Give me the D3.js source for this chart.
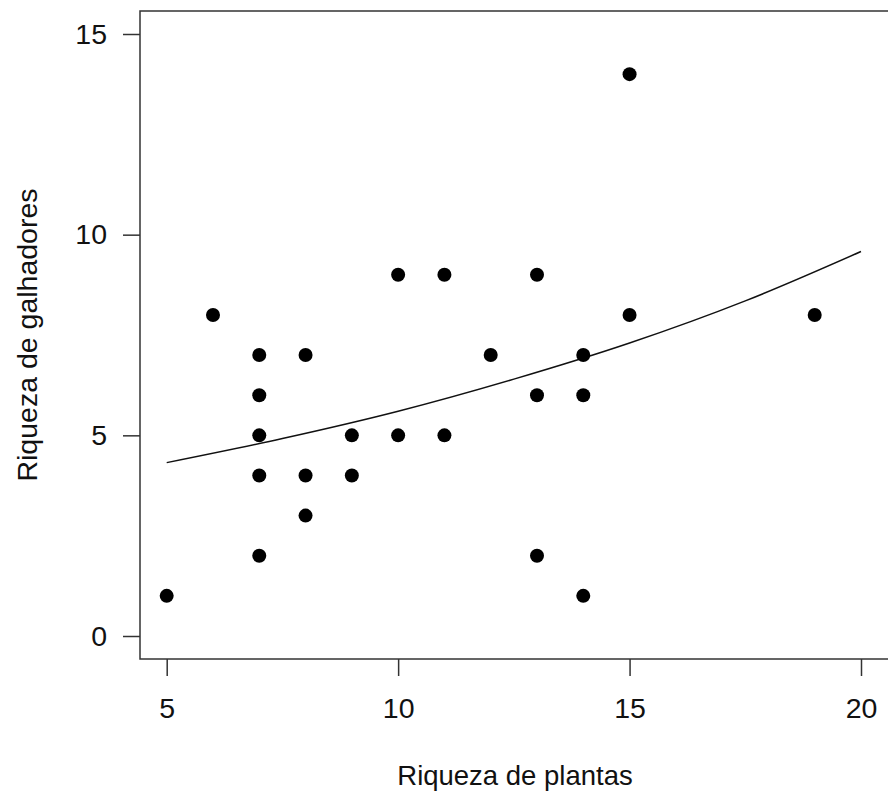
<!DOCTYPE html>
<html>
<head>
<meta charset="utf-8">
<script src="https://cdn.jsdelivr.net/npm/d3@7"></script>
<style>
  body { margin: 0; background: #fff; }
  text { font-family: "Liberation Sans", Arial, sans-serif; fill: #111; }
</style>
</head>
<body>
<div id="my_dataviz"></div>
<script>
// data
const plantas =    [5, 6, 7, 7, 7, 7, 7, 8, 8, 8, 9, 9, 10, 10, 11, 11, 12, 13, 13, 13, 14, 14, 14, 15, 15, 19];
const galhadores = [1, 8, 7, 6, 5, 4, 2, 7, 4, 3, 5, 4,  9,  5,  9,  5,  7,  9,  6,  2,  7,  6,  1, 14,  8,  8];
// fitted curve, read at a few x values
const curveX = [5, 7.5, 10, 12.5, 15, 17.5, 20];
const curveY = [4.32, 4.92, 5.6, 6.4, 7.3, 8.35, 9.58];
const xTicks = [5, 10, 15, 20];
const yTicks = [0, 5, 10, 15];

const outerWidth = 888;
const outerHeight = 794;
const box = {left: 140, top: 11, right: 890, bottom: 659};
const radius = 7;
const tickFont = "28.5px";

const svg = d3.select("#my_dataviz").append("svg")
  .attr("width", outerWidth)
  .attr("height", outerHeight);

const xScale = d3.scaleLinear()
  .domain([5, 20])
  .range([166.7, 861]);
const yScale = d3.scaleLinear()
  .domain([0, 15])
  .range([636, 34]);

// frame
svg.append("rect")
  .attr("x", box.left)
  .attr("y", box.top)
  .attr("width", box.right - box.left)
  .attr("height", box.bottom - box.top)
  .attr("fill", "none")
  .attr("stroke", "#333")
  .attr("stroke-width", 1.5);

// axes
const xAxis = d3.axisBottom(xScale)
  .tickValues(xTicks)
  .tickSize(17)
  .tickPadding(22);
const yAxis = d3.axisLeft(yScale)
  .tickValues(yTicks)
  .tickSize(17)
  .tickPadding(16);

const xAxisGroup = svg.append("g")
  .attr("transform", "translate(0," + box.bottom + ")")
  .call(xAxis);
const yAxisGroup = svg.append("g")
  .attr("transform", "translate(" + box.left + ",0)")
  .call(yAxis);

[xAxisGroup, yAxisGroup].forEach(function(g) {
  g.select(".domain").remove();
  g.selectAll("line").attr("stroke", "#333").attr("stroke-width", 1.5);
  g.selectAll("text")
    .style("font-size", tickFont)
    .style("font-family", "'Liberation Sans', Arial, sans-serif")
    .attr("fill", "#111");
});

// fitted line
const line = d3.line()
  .x(function(d) { return xScale(d[0]); })
  .y(function(d) { return yScale(d[1]); })
  .curve(d3.curveMonotoneX);

svg.append("path")
  .datum(curveX.map(function(x, i) { return [x, curveY[i]]; }))
  .attr("d", line)
  .attr("fill", "none")
  .attr("stroke", "#111")
  .attr("stroke-width", 1.5);

// points
svg.selectAll(".pt")
  .data(plantas.map(function(x, i) { return {x: x, y: galhadores[i]}; }))
  .enter().append("circle")
  .attr("class", "pt")
  .attr("cx", function(d) { return xScale(d.x); })
  .attr("cy", function(d) { return yScale(d.y); })
  .attr("r", radius)
  .attr("fill", "#000");

// axis titles
svg.append("text")
  .attr("x", (box.left + box.right) / 2)
  .attr("y", 785)
  .style("text-anchor", "middle")
  .style("font-size", "27.5px")
  .text("Riqueza de plantas");

svg.append("text")
  .attr("transform", "rotate(-90)")
  .attr("x", -(box.top + box.bottom) / 2)
  .attr("y", 37)
  .style("text-anchor", "middle")
  .style("font-size", "28.5px")
  .text("Riqueza de galhadores");
</script>
</body>
</html>
